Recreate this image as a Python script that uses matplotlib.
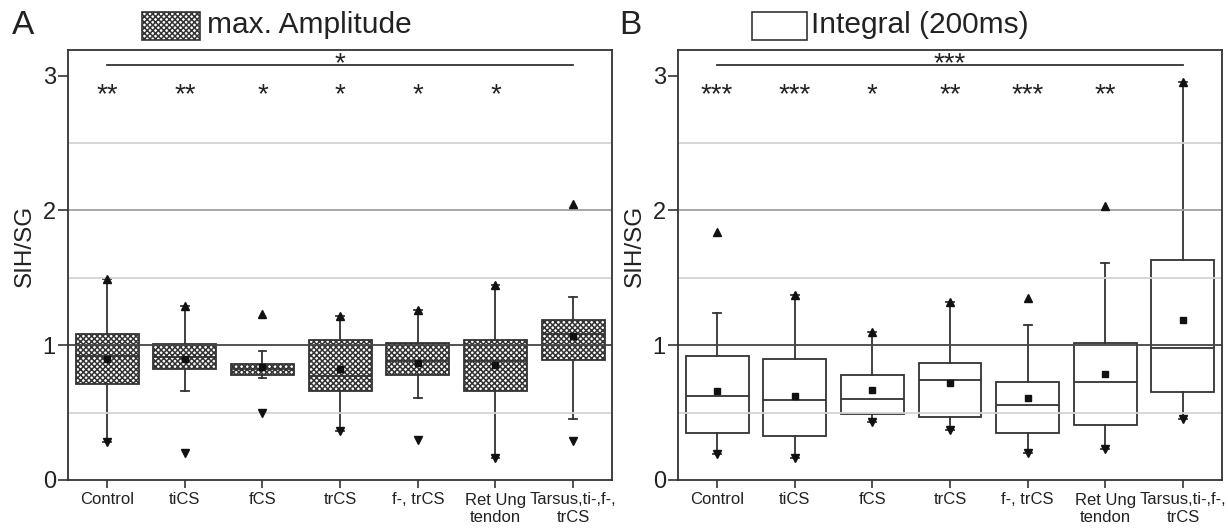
import matplotlib
matplotlib.use("Agg")
import matplotlib.pyplot as plt
from matplotlib.patches import Rectangle

plt.rcParams['font.family'] = ['Liberation Sans', 'DejaVu Sans']
plt.rcParams['hatch.linewidth'] = 1.1

groups = ["Control", "tiCS", "fCS", "trCS", "f-, trCS", "Ret Ung\ntendon", "Tarsus,ti-,f-,\ntrCS"]

# max. Amplitude
amp_q1 = [0.71, 0.82, 0.78, 0.66, 0.78, 0.66, 0.89]
amp_med = [0.92, 0.91, 0.82, 0.77, 0.88, 0.88, 1.08]
amp_q3 = [1.08, 1.01, 0.86, 1.04, 1.02, 1.04, 1.19]
amp_whislo = [0.28, 0.66, 0.76, 0.36, 0.61, 0.16, 0.45]
amp_whishi = [1.49, 1.29, 0.96, 1.22, 1.26, 1.45, 1.36]
amp_mean = [0.90, 0.90, 0.84, 0.82, 0.87, 0.85, 1.07]
amp_min = [0.28, 0.20, 0.50, 0.36, 0.30, 0.16, 0.29]
amp_max = [1.49, 1.29, 1.23, 1.22, 1.26, 1.45, 2.05]
amp_stars = ["**", "**", "*", "*", "*", "*", ""]
amp_overall = "*"

# Integral (200ms)
int_q1 = [0.35, 0.33, 0.49, 0.47, 0.35, 0.41, 0.65]
int_med = [0.62, 0.59, 0.60, 0.74, 0.56, 0.73, 0.98]
int_q3 = [0.92, 0.90, 0.78, 0.87, 0.73, 1.02, 1.63]
int_whislo = [0.19, 0.16, 0.43, 0.37, 0.20, 0.23, 0.45]
int_whishi = [1.24, 1.37, 1.10, 1.32, 1.15, 1.61, 2.95]
int_mean = [0.66, 0.62, 0.67, 0.72, 0.61, 0.79, 1.19]
int_min = [0.19, 0.16, 0.43, 0.37, 0.20, 0.23, 0.45]
int_max = [1.84, 1.37, 1.10, 1.32, 1.35, 2.03, 2.95]
int_stars = ["***", "***", "*", "**", "***", "**", ""]
int_overall = "***"

W, H = 1228, 531
DARK = '#333333'
HATCH = 'xxxxxx'


def fx(x):
    return x / W


def fy(y):
    return 1 - y / H


def draw_panel(ax, q1, med, q3, lo, hi, mean, vmin, vmax, stars, overall, hatched):
    pos = list(range(1, len(groups) + 1))
    stats = []
    for i in range(len(groups)):
        stats.append(dict(q1=q1[i], med=med[i], q3=q3[i], whislo=lo[i], whishi=hi[i],
                          mean=mean[i], fliers=[]))
    if hatched:
        boxprops = dict(facecolor='white', edgecolor=DARK, hatch=HATCH, linewidth=1.3)
    else:
        boxprops = dict(facecolor='none', edgecolor=DARK, linewidth=1.3)
    ax.bxp(stats, positions=pos, widths=0.81, capwidths=0.1, patch_artist=True,
           showmeans=True, showfliers=False, boxprops=boxprops,
           whiskerprops=dict(color=DARK, linewidth=1.3),
           capprops=dict(color=DARK, linewidth=1.3),
           medianprops=dict(color=DARK, linewidth=1.3, zorder=3),
           meanprops=dict(marker='s', markersize=4.5, markerfacecolor='#111111',
                          markeredgecolor='#111111', zorder=4))
    ax.plot(pos, vmax, '^', color='#111111', markersize=5.5, zorder=4)
    ax.plot(pos, vmin, 'v', color='#111111', markersize=5.5, zorder=4)

    # reference lines
    for y, c in [(0.5, '#d4d4d4'), (1.5, '#d4d4d4'), (2.5, '#d4d4d4'), (2.0, '#a0a0a0'), (1.0, '#444444')]:
        ax.axhline(y, color=c, linewidth=1.3, zorder=2.5)

    # significance
    for p, s in zip(pos, stars):
        ax.text(p, 2.80, s, ha='center', va='baseline', fontsize=20, color='#222222')
    ax.plot([pos[0], pos[-1]], [3.08, 3.08], color=DARK, linewidth=1.3)
    ax.text((pos[0] + pos[-1]) / 2, 3.035, overall, ha='center', va='baseline', fontsize=20, color='#222222')

    ax.set_xlim(0.5, 7.5)
    ax.set_ylim(0, 3.19)
    ax.set_yticks([0, 1, 2, 3])
    ax.set_xticks(pos)
    ax.set_xticklabels(groups, fontsize=12, color='#222222')
    ax.tick_params(axis='y', labelsize=17, length=7, width=1.2, color=DARK, labelcolor='#222222', pad=2)
    ax.tick_params(axis='x', length=6, width=1.2, color=DARK, pad=3)
    ax.set_ylabel('SIH/SG', fontsize=17.5, color='#222222')
    ax.yaxis.set_label_coords(-0.059, 0.545)
    for sp in ax.spines.values():
        sp.set_color(DARK)
        sp.set_linewidth(1.3)


fig = plt.figure(figsize=(W / 100, H / 100), dpi=100)
ax1 = fig.add_axes([fx(68.3), fy(480), (612 - 68.3) / W, 430 / H])
ax2 = fig.add_axes([fx(678.3), fy(480), (1221.7 - 678.3) / W, 430 / H])

draw_panel(ax1, amp_q1, amp_med, amp_q3, amp_whislo, amp_whishi, amp_mean,
           amp_min, amp_max, amp_stars, amp_overall, True)
draw_panel(ax2, int_q1, int_med, int_q3, int_whislo, int_whishi, int_mean,
           int_min, int_max, int_stars, int_overall, False)

# panel letters and legend-like titles
fig.text(fx(23), fy(25), 'A', fontsize=24, ha='center', va='center', color='#222222')
fig.text(fx(630), fy(25), 'B', fontsize=24, ha='center', va='center', color='#222222')

fig.add_artist(Rectangle((fx(142), fy(40)), 58 / W, 28 / H, transform=fig.transFigure,
                         facecolor='white', edgecolor=DARK, hatch=HATCH, linewidth=1.2))
fig.text(fx(207), fy(25), 'max. Amplitude', fontsize=21.5, ha='left', va='center', color='#222222')

fig.add_artist(Rectangle((fx(752), fy(40)), 55 / W, 28 / H, transform=fig.transFigure,
                         facecolor='white', edgecolor=DARK, linewidth=1.2))
fig.text(fx(811), fy(25), 'Integral (200ms)', fontsize=21.5, ha='left', va='center', color='#222222')

fig.savefig('out.png', dpi=100)
